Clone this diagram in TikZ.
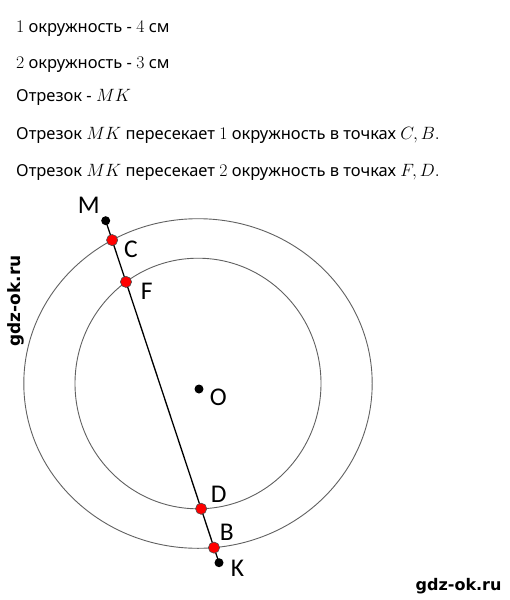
\RequirePackage{fix-cm}
\documentclass[tikz,border=0pt]{standalone}
\usepackage{fontspec}
\newfontfamily\txtfont{Noto Sans}
\newfontfamily\lblfont{Carlito}
\newfontfamily\wmfont{DejaVu Sans}
\usetikzlibrary{intersections}
\newcommand\mth[1]{{\fontsize{17.8}{21}\selectfont$#1$}}
\begin{document}
\begin{tikzpicture}[x=1pt,y=-1pt,
  txtline/.style={anchor=base west, inner sep=0, font=\txtfont\fontsize{16.5}{19}\selectfont},
  lab/.style={inner sep=0, font=\lblfont\fontsize{25.5}{30}\selectfont},
  ring/.style={draw=black!62, line width=0.9pt},
  seg/.style={draw=black, line width=1.3pt},
  bdot/.style={fill=black},
  rdot/.style={fill=red, draw=black!70, line width=0.6pt},
  wmark/.style={inner sep=0, font=\wmfont\bfseries\fontsize{16}{18}\selectfont}]
\useasboundingbox (0,0) rectangle (510,600);
\fill[white] (0,0) rectangle (510,600);
% text lines
\node[txtline] (t1) at (16,32.3) {\mth{1} окружность - \mth{4} см};
\node[txtline] (t2) at (16,68.3) {\mth{2} окружность - \mth{3} см};
\node[txtline] (t3) at (16,101.7) {Отрезок - \mth{MK}};
\node[txtline] (t4) at (16,139.3) {Отрезок \mth{MK} пересекает \mth{1} окружность в точках \mth{C, B.}};
\node[txtline] (t5) at (16,176.7) {Отрезок \mth{MK} пересекает \mth{2} окружность в точках \mth{F, D.}};
% geometry
\coordinate (O) at (198,383.5);
\coordinate (M) at (105.7,220.7);
\coordinate (K) at (219,562.7);
\path[ring, name path=outer] (O) ellipse [x radius=174.2, y radius=164.8];
\path[ring, name path=inner] (O) ellipse [x radius=123, y radius=125.3];
\path[seg, name path=mk] (M) -- (K);
\path[name intersections={of=mk and outer, sort by=mk, by={C,B}}];
\path[name intersections={of=mk and inner, sort by=mk, by={F,D}}];
\fill[bdot] (M) circle[radius=4.5];
\fill[bdot] (K) circle[radius=4.5];
\fill[bdot] (199,389) circle[radius=4.5];
\foreach \p in {C,F,D,B} \filldraw[rdot] (\p) circle[radius=5.6];
% labels
\node[lab] (lM) at (88.7,205) {M};
\node[lab] (lC) at (131,249.5) {C};
\node[lab] (lF) at (146.7,291) {F};
\node[lab] (lD) at (218.7,494.7) {D};
\node[lab] (lB) at (226.7,532.5) {B};
\node[lab] (lK) at (237.5,568) {K};
\node[lab] (lO) at (218.3,397) {O};
% watermarks
\node[wmark, rotate=90, font=\wmfont\bfseries\fontsize{17}{19}\selectfont] (w1) at (16,301) {gdz-ok.ru};
\node[wmark, anchor=base east] (w2) at (501.7,590) {gdz-ok.ru};
\end{tikzpicture}
\end{document}
